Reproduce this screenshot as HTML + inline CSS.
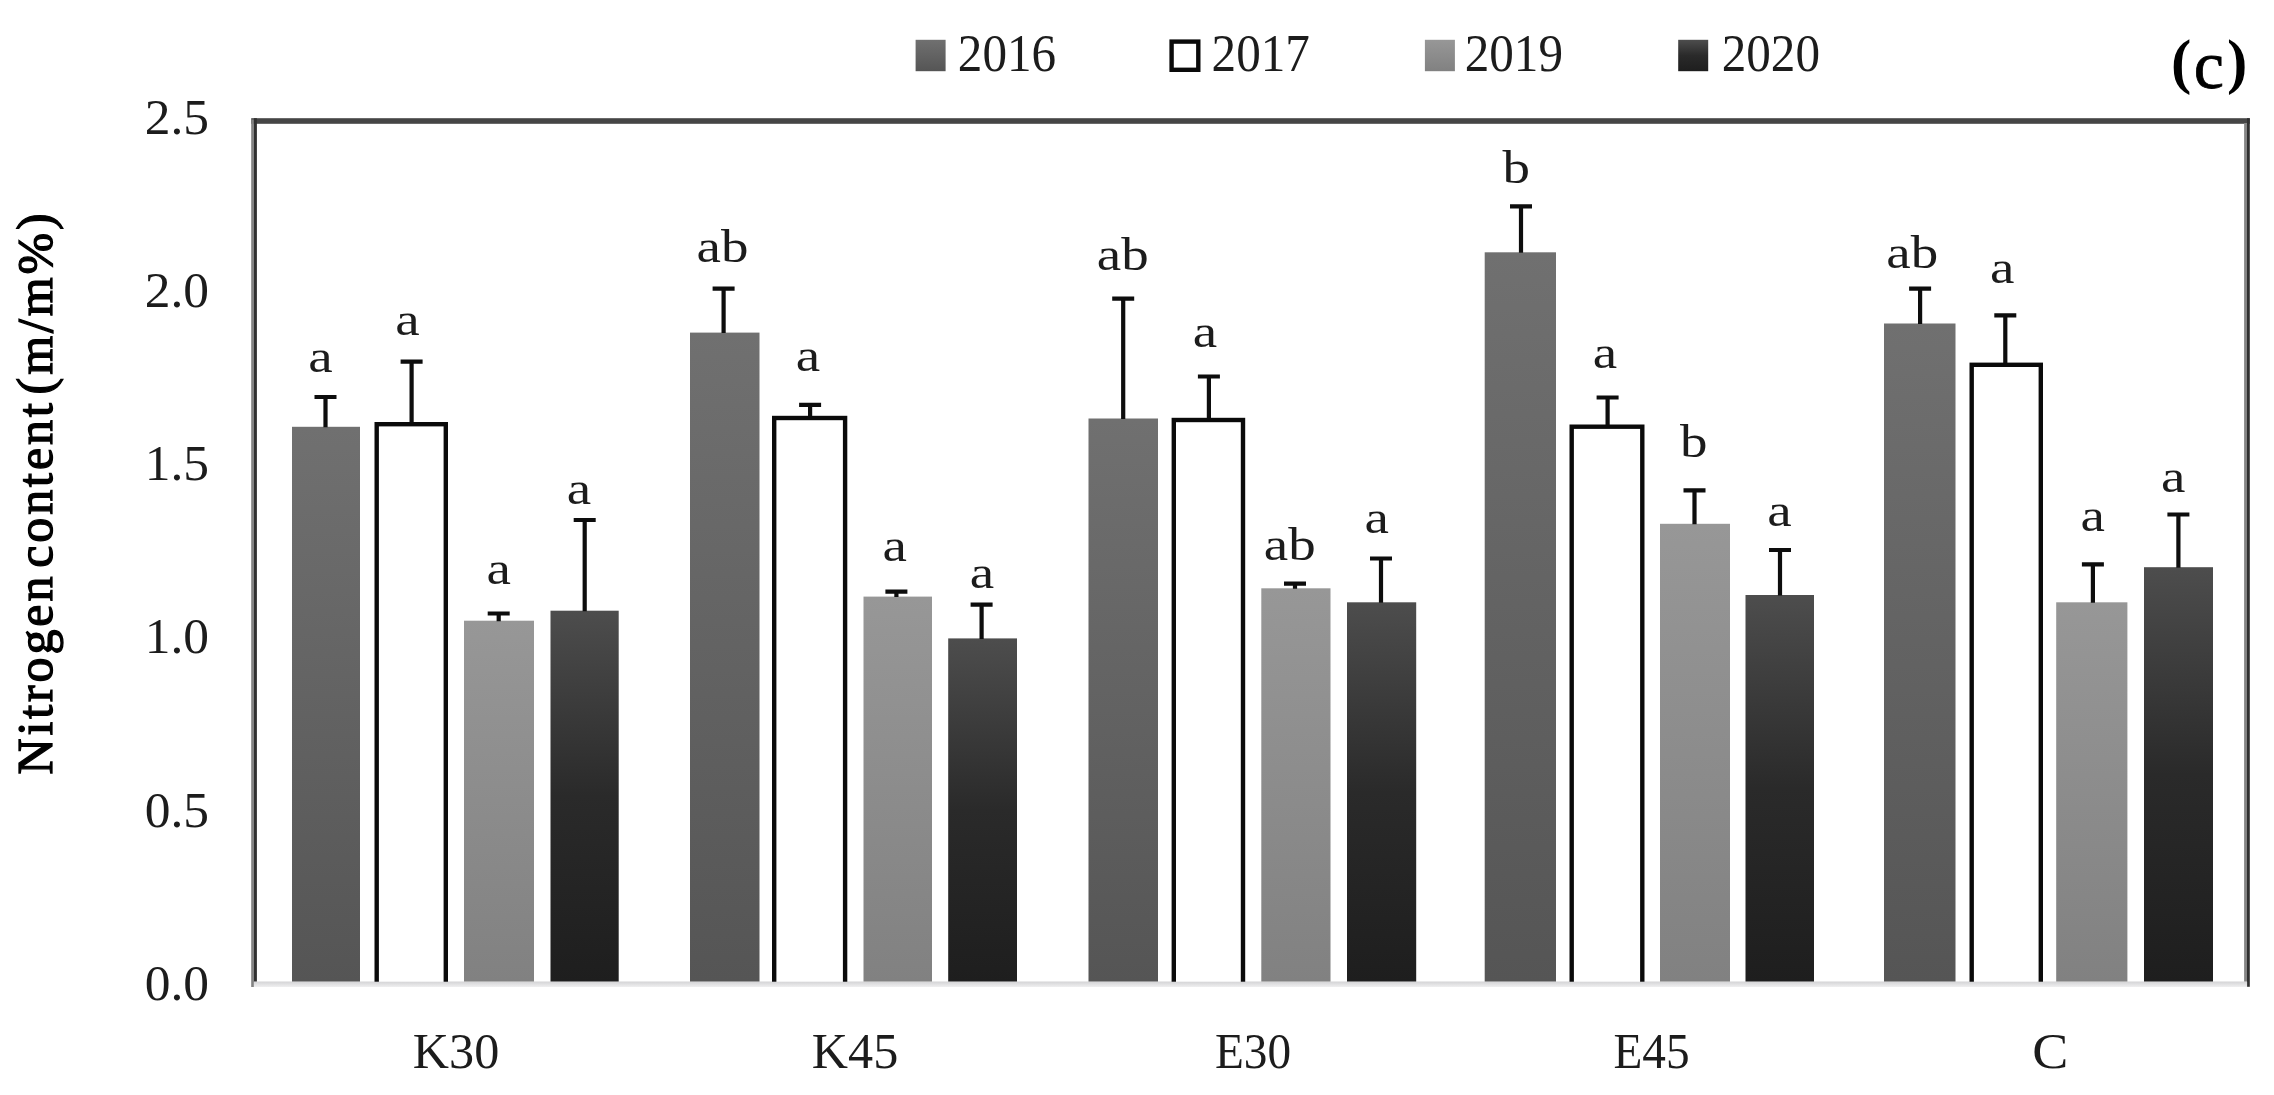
<!DOCTYPE html>
<html lang="en"><head><meta charset="utf-8"><title>Nitrogen content (m/m%) – (c)</title>
<style>
html,body{margin:0;padding:0;background:#fff;}
body{width:2274px;height:1095px;overflow:hidden;}
svg{display:block;}
text{font-family:"Liberation Serif","DejaVu Serif",serif;fill:#1c1c1c;}
.num{font-size:51.5px;}
.sig{font-size:47.0px;text-anchor:middle;}
.cat{font-size:51.5px;text-anchor:middle;}
.tick{font-size:51.5px;text-anchor:end;}
.ttl{font-weight:bold;fill:#000;}
.err{stroke:#0d0d0d;stroke-width:4.2;fill:none;}
</style></head><body>
<svg width="2274" height="1095" viewBox="0 0 2274 1095">
<defs>
<linearGradient id="g16" x1="0" y1="0" x2="0" y2="1"><stop offset="0" stop-color="#707070"/><stop offset="1" stop-color="#555555"/></linearGradient>
<linearGradient id="g19" x1="0" y1="0" x2="0" y2="1"><stop offset="0" stop-color="#979797"/><stop offset="1" stop-color="#818181"/></linearGradient>
<linearGradient id="g20" x1="0" y1="0" x2="0" y2="1"><stop offset="0" stop-color="#4d4d4d"/><stop offset="0.5" stop-color="#2a2a2a"/><stop offset="1" stop-color="#1e1e1e"/></linearGradient>
<linearGradient id="gax" x1="0" y1="0" x2="0" y2="1"><stop offset="0" stop-color="#d4d4d6"/><stop offset="1" stop-color="#efeff0"/></linearGradient>
</defs>
<rect x="0" y="0" width="2274" height="1095" fill="#ffffff"/>
<rect x="253.9" y="981.7" width="1993.2" height="5.3" fill="url(#gax)"/>
<rect x="251.2" y="118.2" width="1998.6" height="5.6" fill="#454545"/>
<rect x="251.2" y="119.5" width="2.7" height="867.5" fill="#828282"/>
<rect x="253.9" y="118.2" width="3.0" height="863.5" fill="#303030"/>
<rect x="2244.1" y="123.0" width="2.9" height="858.7" fill="#858585"/>
<rect x="2247.0" y="118.2" width="2.8" height="868.6" fill="#303030"/>
<g id="grp-K30">
<rect x="292.0" y="426.8" width="68.0" height="554.9" fill="url(#g16)"/>
<path class="err" d="M325.5 427.3V397.0M314.5 397.0H336.5"/>
<rect x="376.7" y="424.2" width="69.1" height="563.7" fill="#ffffff" stroke="#0a0a0a" stroke-width="4.4"/>
<path class="err" d="M411.6 422.5V361.7M400.6 361.7H422.6"/>
<rect x="464.0" y="620.7" width="70.0" height="361.0" fill="url(#g19)"/>
<path class="err" d="M498.7 621.2V613.5M487.7 613.5H509.7"/>
<rect x="550.5" y="610.7" width="68.2" height="371.0" fill="url(#g20)"/>
<path class="err" d="M584.7 611.2V520.0M573.7 520.0H595.7"/>
<text class="sig" transform="translate(320.5 371.6) scale(1.17 1)">a</text>
<text class="sig" transform="translate(407.5 335.1) scale(1.17 1)">a</text>
<text class="sig" transform="translate(498.7 583.6) scale(1.17 1)">a</text>
<text class="sig" transform="translate(579.0 503.6) scale(1.17 1)">a</text>
</g>
<g id="grp-K45">
<rect x="690.0" y="332.6" width="69.5" height="649.1" fill="url(#g16)"/>
<path class="err" d="M723.6 333.1V288.6M712.6 288.6H734.6"/>
<rect x="774.2" y="418.0" width="70.9" height="569.9" fill="#ffffff" stroke="#0a0a0a" stroke-width="4.4"/>
<path class="err" d="M810.1 416.3V404.8M799.1 404.8H821.1"/>
<rect x="863.5" y="596.6" width="68.5" height="385.1" fill="url(#g19)"/>
<path class="err" d="M896.4 597.1V591.6M885.4 591.6H907.4"/>
<rect x="948.2" y="638.4" width="68.8" height="343.3" fill="url(#g20)"/>
<path class="err" d="M981.6 638.9V604.6M970.6 604.6H992.6"/>
<text class="sig" transform="translate(722.5 261.6) scale(1.17 1)">ab</text>
<text class="sig" transform="translate(808.0 371.1) scale(1.17 1)">a</text>
<text class="sig" transform="translate(894.7 560.6) scale(1.17 1)">a</text>
<text class="sig" transform="translate(982.0 588.1) scale(1.17 1)">a</text>
</g>
<g id="grp-E30">
<rect x="1088.5" y="418.5" width="69.5" height="563.2" fill="url(#g16)"/>
<path class="err" d="M1123.2 419.0V298.6M1112.2 298.6H1134.2"/>
<rect x="1173.8" y="420.0" width="69.2" height="567.9" fill="#ffffff" stroke="#0a0a0a" stroke-width="4.4"/>
<path class="err" d="M1208.9 418.3V376.5M1197.9 376.5H1219.9"/>
<rect x="1261.3" y="588.3" width="69.2" height="393.4" fill="url(#g19)"/>
<path class="err" d="M1295.0 588.8V583.6M1284.0 583.6H1306.0"/>
<rect x="1347.0" y="602.3" width="69.2" height="379.4" fill="url(#g20)"/>
<path class="err" d="M1381.0 602.8V558.5M1370.0 558.5H1392.0"/>
<text class="sig" transform="translate(1122.7 269.6) scale(1.17 1)">ab</text>
<text class="sig" transform="translate(1204.9 346.6) scale(1.17 1)">a</text>
<text class="sig" transform="translate(1289.8 560.3) scale(1.17 1)">ab</text>
<text class="sig" transform="translate(1376.7 532.9) scale(1.17 1)">a</text>
</g>
<g id="grp-E45">
<rect x="1484.7" y="252.3" width="71.3" height="729.4" fill="url(#g16)"/>
<path class="err" d="M1521.0 252.8V206.4M1510.0 206.4H1532.0"/>
<rect x="1571.7" y="426.7" width="70.6" height="561.2" fill="#ffffff" stroke="#0a0a0a" stroke-width="4.4"/>
<path class="err" d="M1607.6 425.0V397.5M1596.6 397.5H1618.6"/>
<rect x="1660.0" y="523.8" width="70.0" height="457.9" fill="url(#g19)"/>
<path class="err" d="M1694.5 524.3V490.3M1683.5 490.3H1705.5"/>
<rect x="1745.5" y="595.0" width="68.5" height="386.7" fill="url(#g20)"/>
<path class="err" d="M1780.0 595.5V550.0M1769.0 550.0H1791.0"/>
<text class="sig" transform="translate(1516.2 183.1) scale(1.17 1)">b</text>
<text class="sig" transform="translate(1605.0 368.1) scale(1.17 1)">a</text>
<text class="sig" transform="translate(1693.8 456.6) scale(1.17 1)">b</text>
<text class="sig" transform="translate(1779.4 526.2) scale(1.17 1)">a</text>
</g>
<g id="grp-C">
<rect x="1884.0" y="323.5" width="71.5" height="658.2" fill="url(#g16)"/>
<path class="err" d="M1920.1 324.0V288.6M1909.1 288.6H1931.1"/>
<rect x="1971.7" y="364.8" width="69.1" height="623.1" fill="#ffffff" stroke="#0a0a0a" stroke-width="4.4"/>
<path class="err" d="M2005.3 363.1V315.3M1994.3 315.3H2016.3"/>
<rect x="2056.2" y="602.3" width="71.2" height="379.4" fill="url(#g19)"/>
<path class="err" d="M2092.9 602.8V564.3M2081.9 564.3H2103.9"/>
<rect x="2144.0" y="567.2" width="69.0" height="414.5" fill="url(#g20)"/>
<path class="err" d="M2178.4 567.7V514.5M2167.4 514.5H2189.4"/>
<text class="sig" transform="translate(1912.3 268.2) scale(1.17 1)">ab</text>
<text class="sig" transform="translate(2002.3 283.2) scale(1.17 1)">a</text>
<text class="sig" transform="translate(2092.7 531.2) scale(1.17 1)">a</text>
<text class="sig" transform="translate(2173.1 492.1) scale(1.17 1)">a</text>
</g>
<rect x="253.9" y="981.7" width="1993.2" height="5.3" fill="url(#gax)"/>
<rect x="253.9" y="987" width="1993.2" height="6" fill="#ffffff"/>
<text class="tick" x="209.0" y="134.0">2.5</text>
<text class="tick" x="209.0" y="307.0">2.0</text>
<text class="tick" x="209.0" y="480.3">1.5</text>
<text class="tick" x="209.0" y="653.2">1.0</text>
<text class="tick" x="209.0" y="827.3">0.5</text>
<text class="tick" x="209.0" y="1000.0">0.0</text>
<text class="cat" transform="translate(456.0 1068.3) scale(0.975 1)">K30</text>
<text class="cat" transform="translate(855.0 1068.3) scale(0.975 1)">K45</text>
<text class="cat" transform="translate(1253.0 1068.3) scale(0.918 1)">E30</text>
<text class="cat" transform="translate(1651.5 1068.3) scale(0.918 1)">E45</text>
<text class="cat" transform="translate(2050.4 1068.3) scale(1.050 1)">C</text>
<rect x="915.6" y="39.8" width="30" height="31.4" fill="url(#g16)"/>
<text class="num" style="font-size:53px" transform="translate(957.8 71.2) scale(0.928 1)">2016</text>
<rect x="1171.6" y="41.6" width="26.7" height="28.2" fill="#ffffff" stroke="#0a0a0a" stroke-width="4.4"/>
<text class="num" style="font-size:53px" transform="translate(1211.6 71.2) scale(0.928 1)">2017</text>
<rect x="1424.9" y="39.8" width="30" height="31.4" fill="url(#g19)"/>
<text class="num" style="font-size:53px" transform="translate(1464.7 71.2) scale(0.928 1)">2019</text>
<rect x="1678.2" y="39.8" width="30" height="31.4" fill="url(#g20)"/>
<text class="num" style="font-size:53px" transform="translate(1721.7 71.2) scale(0.928 1)">2020</text>
<text class="ttl" font-size="61"><tspan x="2171.0" y="82.3">(</tspan><tspan x="2193.8" y="88.0" style="font-size:68px;font-weight:normal;stroke:#000;stroke-width:0.8px">c</tspan><tspan x="2226.9" y="82.3">)</tspan></text>
<text class="ttl" transform="translate(51.5 492.5) rotate(-90)" text-anchor="middle" font-size="50" style="font-weight:normal;stroke:#000;stroke-width:1.3px;letter-spacing:2.9px;word-spacing:-9.5px">Nitrogen content (m/m%)</text>
</svg>
</body></html>
